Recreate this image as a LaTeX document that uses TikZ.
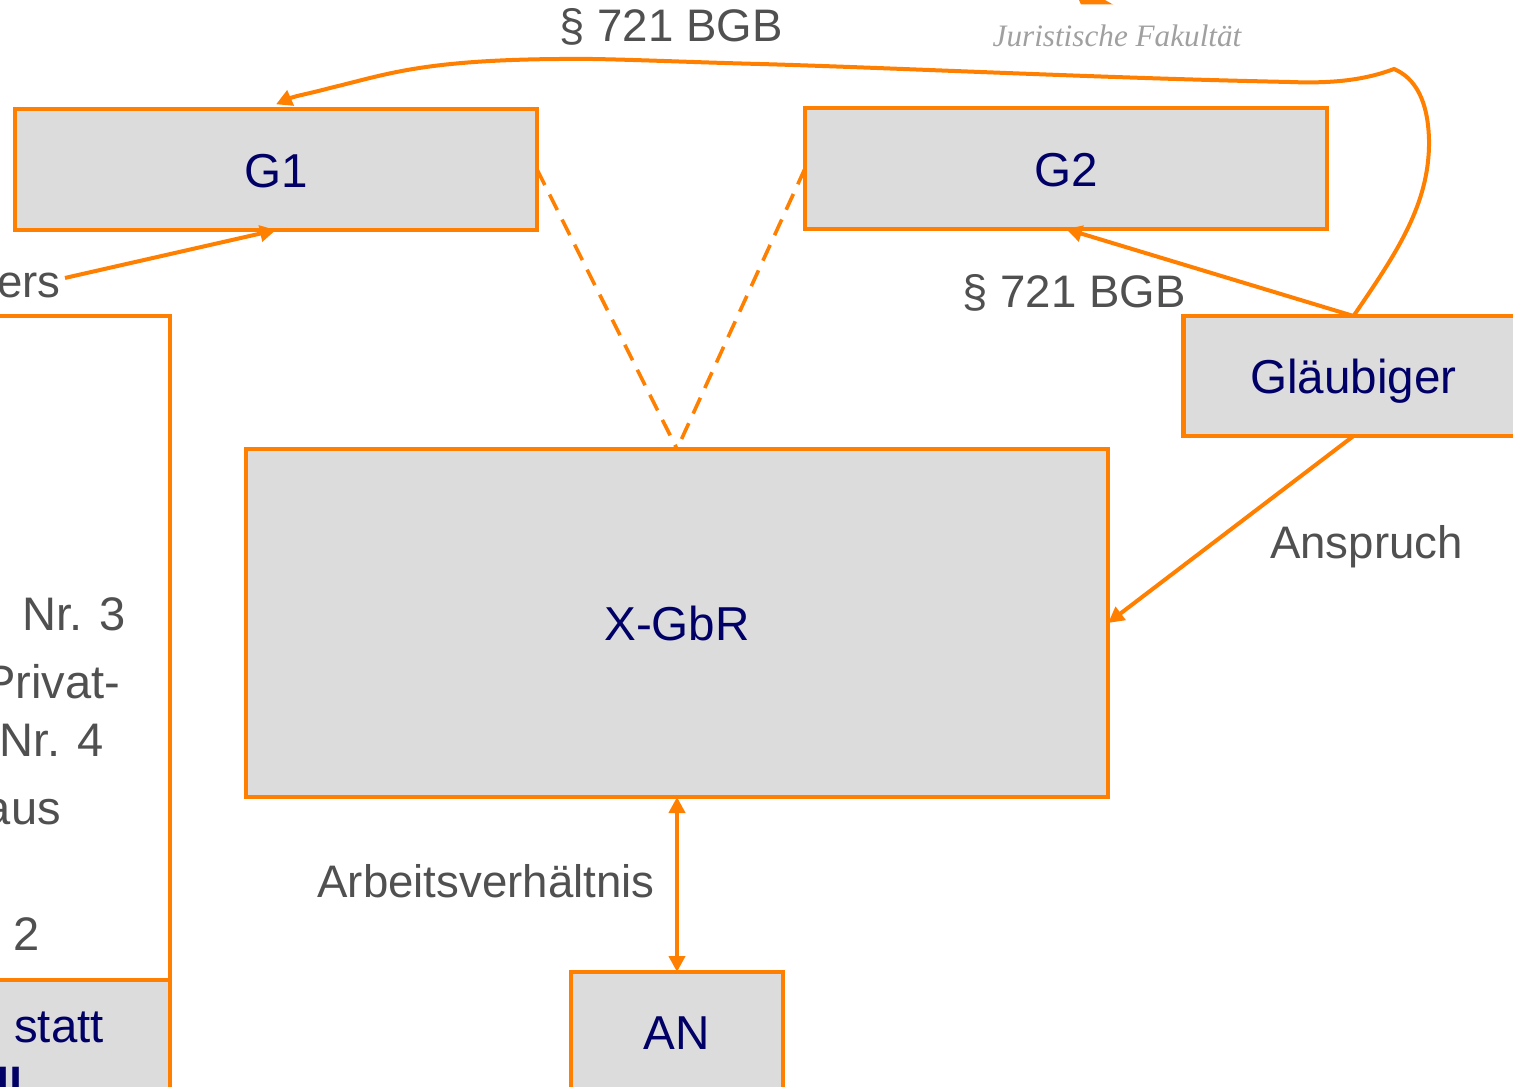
\documentclass[tikz,border=0pt]{standalone}
\usepackage{fontspec}
\setmainfont{Liberation Sans}
\newfontfamily\logofont{Liberation Serif}
\usetikzlibrary{arrows.meta}
\definecolor{uniOrange}{HTML}{FF8000}
\definecolor{boxGray}{HTML}{DCDCDC}
\definecolor{boxText}{HTML}{000066}
\definecolor{labelText}{HTML}{505050}
\definecolor{logoText}{HTML}{A0A0A0}
\tikzset{
  partybox/.style={rectangle, draw=uniOrange, fill=boxGray, line width=3.2pt, outer sep=0pt, text=boxText, font=\fontsize{35.7}{40}\selectfont, text height=26.5pt, text depth=0pt},
  infobox/.style={rectangle, draw=uniOrange, fill=white, line width=3.6pt, outer sep=0pt},
  lbl/.style={rectangle, draw=none, inner sep=0pt, text=labelText, font=\fontsize{34.2}{40}\selectfont},
  infolbl/.style={lbl, font=\fontsize{35.3}{40}\selectfont},
  boxlbl/.style={rectangle, draw=none, inner sep=0pt, text=boxText, font=\fontsize{35.5}{40}\selectfont},
  conn/.style={draw=uniOrange, line width=3pt, -{Triangle[length=12pt,width=12pt]}},
  twoway/.style={draw=uniOrange, line width=3pt, {Triangle[length=12pt,width=12pt]}-{Triangle[length=12pt,width=12pt]}},
  member/.style={draw=uniOrange, line width=2.7pt, dash pattern=on 13pt off 8pt}
}
\begin{document}
\begin{tikzpicture}[x=0.75pt,y=-0.75pt]
\useasboundingbox (0,0) rectangle (1513,1087);
\clip (0,0) rectangle (1513,1087);
%%%%%%%%%%%%%%%%%%%%%%%%%%%%%%% Logo
\fill[uniOrange] (1079,0) -- (1081,4.5) -- (1113,4.5) -- (1105,0) -- cycle;
\node[rectangle, draw=none, inner sep=0pt, anchor=base, text=logoText, font=\logofont\itshape\fontsize{23.4}{30}\selectfont](logoName) at (1117,47){Juristische Fakultät};

%%%%%%%%%%%%%%%%%%%%%%%%%%%%%%% Left box, cut by the page edge
\node[infobox, minimum width=255pt, minimum height=498pt](info) at (0,648){};
\node[partybox, minimum width=255pt, minimum height=90pt](statt) at (0,1040){};
\node[infolbl, anchor=base](nr3) at (74,630){Nr. 3};
\node[infolbl, anchor=base east](privat) at (120.5,698){Privat-};
\node[infolbl, anchor=base east](nr4) at (104,756){Nr. 4};
\node[infolbl, anchor=base east](aus) at (61,824){aus};
\node[infolbl, anchor=base](two) at (27,950){2};
\node[boxlbl, anchor=base](stattText) at (59,1042){statt};
\node[boxlbl, anchor=base east, font=\bfseries\fontsize{35.5}{40}\selectfont](stattBold) at (23,1101){ll};
\node[lbl, anchor=base east](ers) at (61,298){ers};

%%%%%%%%%%%%%%%%%%%%%%%%%%%%%%% Parties
\node[partybox, minimum width=391.5pt, minimum height=90.75pt](g1) at (276,169.5){G1};
\node[partybox, minimum width=391.5pt, minimum height=90.75pt](g2) at (1066,168.5){G2};
\node[partybox, minimum width=255pt, minimum height=90pt](glaeubiger) at (1353.5,376){Gläubiger};
\node[partybox, minimum width=646.5pt, minimum height=261pt](gbr) at (677,623){X-GbR};
\node[partybox, minimum width=159pt, minimum height=90pt](an) at (677,1032){AN};

%%%%%%%%%%%%%%%%%%%%%%%%%%%%%%% Labels
\node[lbl, anchor=base](bgbTop) at (671,42){§ 721 BGB};
\node[lbl, anchor=base](bgbRight) at (1074,308){§ 721 BGB};
\node[lbl, anchor=base](anspruch) at (1366.5,558){Anspruch};
\node[lbl, anchor=base](arbeit) at (486,897){Arbeitsverhältnis};

%%%%%%%%%%%%%%%%%%%%%%%%%%%%%%% Connectors
\draw[member] (g1.east) -- (gbr.north);
\draw[member] (g2.west) -- (gbr.north);
\coordinate (ersEnd) at ([xshift=3pt,yshift=6pt]ers.east);
\draw[conn] (ersEnd) -- (g1.south);
\draw[conn] (glaeubiger.north) -- (g2.south);
\draw[conn] (glaeubiger.south) -- (gbr.east);
\draw[twoway] (gbr.south) -- (an.north);
\coordinate (bend) at (1394,69);
\coordinate (g1Top) at ([yshift=3.5pt]g1.north);
\draw[conn] (glaeubiger.north) .. controls (1395,255) and (1430,205) .. (1429,140)
  .. controls (1428,100) and (1415,78) .. (bend)
  .. controls (1370,78) and (1340,84) .. (1290,82)
  .. controls (1100,78) and (900,68) .. (760,64)
  .. controls (680,62) and (600,58) .. (560,59)
  .. controls (420,60) and (385,75) .. (330,88)
  .. controls (312,93) and (295,96) .. (g1Top);
\end{tikzpicture}
\end{document}
